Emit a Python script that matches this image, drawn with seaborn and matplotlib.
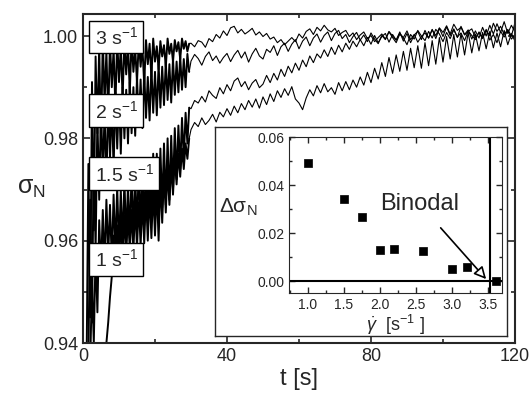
import numpy as np
import matplotlib
matplotlib.use("Agg")
import matplotlib.pyplot as plt
from matplotlib.ticker import MultipleLocator, FormatStrFormatter
import seaborn as sns

# relaxation curves: noisy start sampled every 0.5 s, then every 1 s from t = 30 s
start_3 = 1.0
dense_3 = [0.936, 0.975, 0.945, 0.991, 0.962, 0.996, 0.981, 0.998, 0.979, 0.9995, 0.987, 0.997,
           0.984, 0.999, 0.990, 0.9975, 0.986, 0.9995, 0.991, 0.998, 0.988, 0.999, 0.9925, 0.9985,
           0.989, 0.9995, 0.993, 0.9975, 0.991, 0.999, 0.994, 0.998, 0.9905, 0.9992, 0.9945, 0.9985,
           0.992, 0.9995, 0.995, 0.998, 0.9935, 0.999, 0.996, 0.9982, 0.994, 0.9995, 0.9965, 0.9985,
           0.995, 0.9992, 0.997, 0.9988, 0.9955, 0.9995, 0.9975, 0.999, 0.997, 0.9985]
thin_3 = [0.9986, 0.9979, 0.9991, 0.9988, 0.9978, 0.9995, 0.9989, 1.0003, 0.9996, 1.0010,
          1.0001, 1.0016, 1.0019, 1.0006, 1.0013, 1.0004, 1.0009, 1.0015, 1.0002, 1.0008,
          0.9999, 1.0005, 0.9994, 0.9998, 0.9987, 0.9993, 0.9983, 0.9990, 0.9997, 0.9989,
          1.0004, 0.9996, 1.0009, 1.0014, 1.0003, 1.0017, 1.0010, 1.0021, 1.0012, 1.0008,
          1.0015, 1.0001, 1.0007, 1.0011, 0.9999, 1.0006, 0.9993, 1.0002, 1.0008, 0.9995,
          1.0001, 0.9989, 0.9997, 1.0004, 0.9994, 1.0009, 1.0000, 0.9992, 1.0005, 0.9997,
          1.0010, 0.9993, 1.0003, 0.9988, 0.9999, 1.0006, 0.9996, 1.0012, 1.0001, 1.0016,
          1.0007, 1.0020, 1.0004, 1.0023, 1.0011, 1.0017, 1.0002, 1.0009, 1.0014, 0.9997,
          1.0006, 0.9995, 1.0011, 1.0001, 1.0025, 1.0009, 1.0019, 1.0003, 1.0013, 1.0000, 1.0026]

start_2 = 1.5
dense_2 = [0.936, 0.968, 0.944, 0.978, 0.958, 0.984, 0.968, 0.986, 0.973, 0.985, 0.971, 0.988,
           0.976, 0.987, 0.974, 0.989, 0.978, 0.9885, 0.977, 0.990, 0.980, 0.9895, 0.979, 0.991,
           0.981, 0.990, 0.9805, 0.992, 0.983, 0.9915, 0.982, 0.993, 0.984, 0.992, 0.9835, 0.994,
           0.985, 0.993, 0.9845, 0.9945, 0.986, 0.994, 0.9865, 0.995, 0.9875, 0.9945, 0.987, 0.9955,
           0.9885, 0.995, 0.989, 0.996, 0.9895, 0.9955, 0.990, 0.9965, 0.993]
thin_2 = [0.9951, 0.9964, 0.9956, 0.9943, 0.9960, 0.9969, 0.9952, 0.9961, 0.9947, 0.9958,
          0.9966, 0.9950, 0.9963, 0.9972, 0.9957, 0.9969, 0.9949, 0.9965, 0.9976, 0.9961,
          0.9955, 0.9974, 0.9968, 0.9981, 0.9962, 0.9979, 0.9986, 0.9970, 0.9984, 0.9993,
          0.9975, 0.9990, 0.9998, 0.9981, 0.9996, 1.0004, 0.9988, 1.0001, 1.0008, 0.9991,
          1.0005, 1.0011, 0.9995, 1.0003, 0.9987, 0.9999, 1.0007, 0.9992, 1.0002, 0.9989,
          1.0006, 0.9994, 0.9985, 1.0001, 0.9993, 1.0008, 0.9997, 0.9987, 1.0004, 0.9996,
          0.9983, 1.0003, 0.9994, 1.0011, 1.0000, 0.9991, 1.0009, 0.9996, 1.0013, 1.0004,
          0.9989, 1.0007, 0.9995, 1.0012, 0.9998, 1.0006, 0.9991, 1.0010, 1.0001, 0.9993,
          1.0008, 0.9997, 1.0013, 0.9992, 1.0003, 0.9987, 1.0009, 0.9998, 1.0011, 0.9994, 1.0002]

start_15 = 2.0
dense_15 = [0.936, 0.952, 0.940, 0.958, 0.946, 0.964, 0.954, 0.966, 0.955, 0.968, 0.957, 0.967,
            0.956, 0.969, 0.958, 0.9705, 0.9585, 0.970, 0.959, 0.972, 0.960, 0.971, 0.9605, 0.9735,
            0.961, 0.973, 0.962, 0.975, 0.9625, 0.974, 0.963, 0.976, 0.9635, 0.9755, 0.964, 0.977,
            0.9645, 0.977, 0.965, 0.978, 0.9665, 0.979, 0.967, 0.980, 0.968, 0.9805, 0.970, 0.982,
            0.972, 0.9825, 0.974, 0.984, 0.976, 0.985, 0.979, 0.986]
thin_15 = [0.9858, 0.9874, 0.9869, 0.9882, 0.9871, 0.9893, 0.9884, 0.9878, 0.9899, 0.9887,
           0.9905, 0.9893, 0.9912, 0.9918, 0.9901, 0.9911, 0.9895, 0.9908, 0.9915, 0.9899,
           0.9906, 0.9923, 0.9909, 0.9927, 0.9914, 0.9935, 0.9921, 0.9941, 0.9928, 0.9947,
           0.9933, 0.9953, 0.9940, 0.9961, 0.9948, 0.9965, 0.9957, 0.9973, 0.9960, 0.9978,
           0.9964, 0.9982, 0.9969, 0.9986, 0.9974, 0.9990, 0.9979, 0.9993, 0.9981, 0.9997,
           0.9984, 1.0001, 0.9987, 0.9999, 1.0005, 0.9988, 1.0003, 0.9992, 1.0008, 0.9990,
           1.0005, 0.9987, 1.0002, 1.0009, 0.9993, 1.0011, 0.9996, 1.0013, 0.9995, 1.0015,
           0.9999, 1.0018, 1.0001, 1.0014, 0.9997, 1.0019, 1.0003, 1.0012, 0.9994, 1.0010,
           0.9996, 1.0017, 1.0000, 1.0021, 1.0004, 1.0024, 1.0007, 1.0028, 1.0005, 1.0021, 1.0008]

start_1 = 6.0
dense_1 = [0.936, 0.940, 0.944, 0.949, 0.953, 0.961, 0.955, 0.963, 0.956, 0.964, 0.9565, 0.965,
           0.957, 0.9655, 0.958, 0.966, 0.958, 0.967, 0.9585, 0.9675, 0.959, 0.968, 0.9595, 0.969,
           0.960, 0.9695, 0.9605, 0.970, 0.961, 0.9705, 0.960, 0.972, 0.9635, 0.973, 0.9655, 0.974,
           0.967, 0.975, 0.969, 0.976, 0.971, 0.977, 0.9725, 0.978, 0.974, 0.979, 0.976, 0.980]
thin_1 = [0.9817, 0.9831, 0.9823, 0.9840, 0.9827, 0.9835, 0.9847, 0.9832, 0.9851, 0.9842,
          0.9858, 0.9845, 0.9863, 0.9850, 0.9868, 0.9856, 0.9874, 0.9861, 0.9877, 0.9859,
          0.9881, 0.9866, 0.9887, 0.9872, 0.9893, 0.9880, 0.9897, 0.9884, 0.9901, 0.9877,
          0.9869, 0.9856, 0.9879, 0.9895, 0.9883, 0.9903, 0.9889, 0.9907, 0.9891, 0.9899,
          0.9886, 0.9909, 0.9893, 0.9911, 0.9895, 0.9914, 0.9900, 0.9920, 0.9904, 0.9929,
          0.9909, 0.9937, 0.9916, 0.9948, 0.9921, 0.9958, 0.9927, 0.9963, 0.9931, 0.9970,
          0.9933, 0.9976, 0.9938, 0.9981, 0.9937, 0.9987, 0.9942, 0.9991, 0.9945, 0.9997,
          0.9949, 0.9999, 0.9955, 1.0003, 0.9959, 1.0005, 0.9963, 1.0007, 0.9967, 1.0004,
          0.9971, 1.0007, 0.9975, 1.0009, 0.9977, 1.0006, 0.9979, 1.0011, 0.9983, 1.0005, 0.9990]

rate_labels = ["3", "2", "1.5", "1"]
label_y = [0.9998, 0.9854, 0.9731, 0.9563]

# inset: excess stress vs shear rate
shear_rate = [1.0, 1.5, 1.75, 2.0, 2.2, 2.6, 3.0, 3.2, 3.6]
delta_sigma = [0.049, 0.034, 0.0265, 0.013, 0.0135, 0.0125, 0.005, 0.006, 0.0]
binodal = 3.52

sns.set_style("ticks")
plt.rcParams["font.family"] = ["Liberation Sans", "DejaVu Sans"]
plt.rcParams["mathtext.fontset"] = "custom"
plt.rcParams["mathtext.rm"] = "Liberation Sans"
plt.rcParams["mathtext.it"] = "Liberation Sans:italic"
plt.rcParams["mathtext.sf"] = "Liberation Sans"

fig = plt.figure(figsize=(5.29, 3.96), dpi=100)
ax = fig.add_axes([0.1569, 0.1338, 0.8166, 0.8308])

curves = [(start_3, dense_3, thin_3), (start_2, dense_2, thin_2),
          (start_15, dense_15, thin_15), (start_1, dense_1, thin_1)]
for start, dense, thin in curves:
    t_d = start + 0.5 * np.arange(len(dense))
    t_t = 30 + np.arange(len(thin))
    # the fast early wiggles render as a dark band in the original
    sns.lineplot(x=t_d, y=dense, color="black", lw=1.4, estimator=None, sort=False, ax=ax)
    sns.lineplot(x=np.concatenate([t_d[-1:], t_t]), y=np.concatenate([dense[-1:], thin]),
                 color="black", lw=0.8, estimator=None, sort=False, ax=ax)

for lab, yy in zip(rate_labels, label_y):
    ax.text(3.2, yy, lab + r" s$^{\mathregular{-1}}$", fontsize=14, ha="left", va="center",
            zorder=5, bbox=dict(boxstyle="square,pad=0.28", fc="white", ec="black", lw=1))

ax.set_xlim(0, 120)
ax.set_ylim(0.94, 1.0043)
ax.xaxis.set_major_locator(MultipleLocator(40))
ax.xaxis.set_minor_locator(MultipleLocator(20))
ax.yaxis.set_major_locator(MultipleLocator(0.02))
ax.yaxis.set_minor_locator(MultipleLocator(0.01))
ax.yaxis.set_major_formatter(FormatStrFormatter("%.2f"))
ax.tick_params(which="both", direction="in", top=True, right=True, labelsize=13, width=1.2)
ax.tick_params(which="major", length=5)
ax.tick_params(which="minor", length=3)
for sp in ax.spines.values():
    sp.set_linewidth(1.5)
ax.set_xlabel("t [s]", fontsize=17, labelpad=2)
ax.set_ylabel(r"$\mathregular{\sigma_N}$", fontsize=18, rotation=0, ha="center", va="center")
ax.yaxis.set_label_coords(-0.12, 0.47)

# frame around the inset
ax_box = fig.add_axes([0.4064, 0.1515, 0.5520, 0.5278])
ax_box.set_zorder(2)
ax_box.set_facecolor("white")
ax_box.set_xticks([])
ax_box.set_yticks([])
for sp in ax_box.spines.values():
    sp.set_linewidth(1.0)

ax_in = fig.add_axes([0.5463, 0.2601, 0.4027, 0.3939])
ax_in.set_zorder(3)
sns.scatterplot(x=shear_rate, y=delta_sigma, marker="s", s=38, color="black",
                edgecolor="black", ax=ax_in, zorder=4)
ax_in.axhline(0, color="black", lw=1.5)
ax_in.axvline(binodal, color="black", lw=1.5)
ax_in.set_xlim(0.74, 3.69)
ax_in.set_ylim(-0.005, 0.06)
ax_in.xaxis.set_major_locator(MultipleLocator(0.5))
ax_in.xaxis.set_minor_locator(MultipleLocator(0.25))
ax_in.yaxis.set_major_locator(MultipleLocator(0.02))
ax_in.yaxis.set_minor_locator(MultipleLocator(0.01))
ax_in.xaxis.set_major_formatter(FormatStrFormatter("%.1f"))
ax_in.yaxis.set_major_formatter(FormatStrFormatter("%.2f"))
ax_in.tick_params(which="both", direction="in", top=True, right=True, labelsize=10, width=1)
ax_in.tick_params(which="major", length=4)
ax_in.tick_params(which="minor", length=2.5)
ax_in.set_xlabel(r"$\dot{\gamma}$  [s$^{\mathregular{-1}}$ ]", fontsize=13, labelpad=1)
ax_in.text(-0.24, 0.55, r"$\mathregular{\Delta\sigma_N}$", transform=ax_in.transAxes,
           fontsize=15, ha="center", va="center")
ax_in.annotate("Binodal", xy=(3.47, 0.0008), xytext=(2.55, 0.032), fontsize=17,
               ha="center", va="center",
               arrowprops=dict(arrowstyle="-|>", fc="white", ec="black", lw=1.2,
                               shrinkA=9, shrinkB=0, mutation_scale=18))

fig.savefig("out.png", dpi=100)
